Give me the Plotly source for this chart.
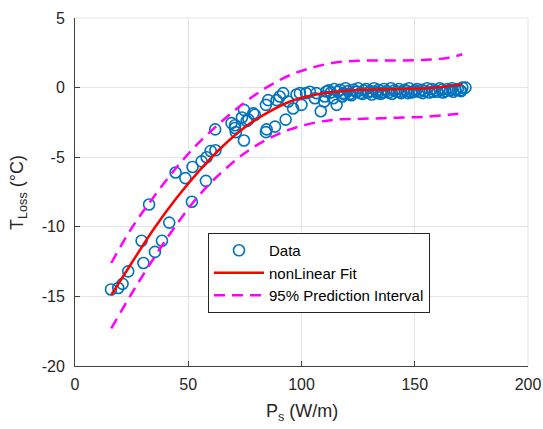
import plotly.graph_objects as go

# ---- data ----
ps_data = [15.9, 19.1, 21.0, 23.5, 29.4, 30.2, 32.7, 35.3, 38.4, 41.6,
           44.4, 48.7, 51.6, 51.9, 55.9, 57.8, 58.1, 59.9, 61.9, 62.0,
           69.1, 70.6, 70.7, 71.0, 73.7, 74.6, 74.6, 75.8, 76.6, 78.7,
           79.4, 84.3, 84.6, 84.3, 85.3, 88.3, 89.0, 90.4, 91.9, 93.0,
           94.1, 96.3, 97.8, 99.3, 102.0, 103.7, 105.9, 106.6, 108.5, 110.3,
           110.0, 111.0, 114.0, 115.5, 118.0, 100.0,
           112.0, 113.0, 114.5, 116.0, 117.0, 118.5, 119.5, 120.5, 121.5, 123.0,
           124.0, 125.0, 126.0, 127.5, 128.5, 129.5, 130.5, 132.0, 133.0, 134.0,
           135.0, 136.5, 137.5, 138.5, 139.5, 141.0, 142.0, 143.0, 144.0, 145.5,
           146.5, 147.5, 148.5, 150.0, 151.0, 152.0, 153.0, 154.5, 155.5, 156.5,
           157.5, 159.0, 160.0, 161.0, 162.0, 163.5, 164.5, 165.5, 166.5, 168.0,
           169.0, 170.0, 171.0, 172.4,
           119.0, 122.0, 124.5, 127.0, 131.0, 133.5, 136.0, 140.0, 143.5, 147.0,
           149.5, 153.5, 158.0, 162.5, 167.0, 170.5]
tloss_data = [-14.5, -14.4, -14.1, -13.2, -11.0, -12.6, -8.4, -11.8, -11.0, -9.7,
              -6.1, -6.5, -8.2, -5.7, -5.3, -6.7, -5.0, -4.55, -3.0, -4.5,
              -2.55, -2.9, -2.7, -3.2, -2.15, -3.8, -1.6, -2.4, -2.3, -1.85,
              -1.95, -3.2, -3.0, -1.24, -0.9, -2.8, -0.9, -0.64, -0.4, -2.3,
              -1.0, -1.5, -0.5, -0.4, -0.4, -0.3, -0.76, -0.4, -1.7, -0.64,
              -1.0, -0.28, -0.76, -1.24, -0.64, -1.24,
              -0.2, -0.35, -0.1, -0.3, -0.15, -0.4, -0.05, -0.25, -0.45, -0.15,
              -0.3, -0.05, -0.4, -0.2, -0.1, -0.35, -0.25, -0.05, -0.3, -0.15,
              -0.45, -0.1, -0.25, -0.35, -0.05, -0.2, -0.3, -0.1, -0.4, -0.15,
              -0.25, -0.05, -0.35, -0.2, -0.1, -0.3, -0.15, -0.25, -0.05, -0.35,
              -0.1, -0.2, -0.3, -0.05, -0.15, -0.25, -0.1, -0.2, -0.05, -0.15,
              -0.1, -0.2, 0.0, 0.0,
              -0.5, -0.55, -0.3, -0.45, -0.5, -0.4, -0.35, -0.45, -0.3, -0.4,
              -0.3, -0.4, -0.3, -0.35, -0.3, -0.25]

fit_x = [16, 25, 35, 45, 55, 65, 75, 85, 95, 105, 115, 125, 135, 145, 155, 165, 171]
fit_y = [-14.9, -12.6, -10.1, -7.9, -5.95, -4.25, -2.85, -1.8, -1.0, -0.55,
         -0.3, -0.17, -0.13, -0.1, -0.05, 0.1, 0.25]
pi_upper = [-12.6, -10.1, -7.8, -5.7, -3.9, -2.4, -1.05, 0.05, 0.9, 1.45,
            1.8, 1.92, 1.95, 1.95, 2.0, 2.15, 2.4]
pi_lower = [-17.3, -14.8, -12.2, -9.8, -7.7, -6.05, -4.7, -3.7, -3.0, -2.55,
            -2.3, -2.25, -2.2, -2.15, -2.1, -1.95, -1.85]

x_ticks = [0, 50, 100, 150, 200]
y_ticks = [-20, -15, -10, -5, 0, 5]

blue = "#0072BD"
magenta = "#FF00FF"
axis_col = "#404040"
grid_col = "#E3E3E3"
text_col = "#262626"
font_family = "Liberation Sans, Arial, sans-serif"

fig = go.Figure()
fig.add_trace(go.Scatter(
    x=ps_data, y=tloss_data, mode="markers", name="Data",
    marker=dict(symbol="circle-open", size=11, color=blue, line=dict(width=1.6, color=blue)),
))
fig.add_trace(go.Scatter(
    x=fit_x, y=fit_y, mode="lines", name="nonLinear Fit",
    line=dict(color="#FF0000", width=2.5, shape="spline"),
))
fig.add_trace(go.Scatter(
    x=fit_x, y=pi_upper, mode="lines", name="95% Prediction Interval",
    line=dict(color=magenta, width=2.5, dash="11px,7px", shape="spline"),
    legendgroup="pi",
))
fig.add_trace(go.Scatter(
    x=fit_x, y=pi_lower, mode="lines", name="95% Prediction Interval",
    line=dict(color=magenta, width=2.5, dash="11px,7px", shape="spline"),
    legendgroup="pi", showlegend=False,
))

axis_common = dict(
    showgrid=True, gridcolor=grid_col, gridwidth=1,
    showline=True, linecolor=axis_col, linewidth=1,
    ticks="inside", ticklen=5, tickcolor=axis_col, tickwidth=1,
    zeroline=False, mirror=False, automargin=False,
    tickfont=dict(size=16, color=text_col, family=font_family),
)

fig.update_xaxes(range=[0, 200], tickvals=x_ticks, ticktext=[str(v) for v in x_ticks],
                 ticklabelstandoff=4, **axis_common)
fig.update_yaxes(range=[-20, 5], tickvals=y_ticks, ticktext=[str(v) for v in y_ticks],
                 ticklabelstandoff=6, **axis_common)

# axis titles as annotations for exact placement
fig.add_annotation(text="P<sub>s</sub> (W/m)", xref="paper", yref="paper",
                   x=0.5, y=-0.095, xanchor="center", yanchor="top", showarrow=False,
                   font=dict(size=18, color=text_col, family=font_family))
fig.add_annotation(text="T<sub>Loss</sub> (°C)", xref="paper", yref="paper",
                   x=-0.126, y=0.5, xanchor="center", yanchor="middle", showarrow=False,
                   textangle=-90, font=dict(size=18, color=text_col, family=font_family))

# light border on top / right like the reference's edge grid lines
fig.add_shape(type="line", xref="paper", yref="paper", x0=0, x1=1, y0=1, y1=1,
              line=dict(color=grid_col, width=1))
fig.add_shape(type="line", xref="paper", yref="paper", x0=1, x1=1, y0=0, y1=1,
              line=dict(color=grid_col, width=1))

fig.update_layout(
    width=543, height=429,
    margin=dict(l=75, r=15, t=18, b=63),
    paper_bgcolor="white", plot_bgcolor="white",
    font=dict(family=font_family, color=text_col),
    showlegend=True,
    legend=dict(
        x=0.2936, y=0.382, xanchor="left", yanchor="top",
        bgcolor="white", bordercolor=text_col, borderwidth=1,
        font=dict(size=15, color="#000000", family=font_family),
        itemwidth=50, tracegroupgap=0,
    ),
)

fig.write_html(
    "out.html",
    config={"displayModeBar": False},
    post_script="document.documentElement.style.margin='0';document.body.style.margin='0';"
                "document.body.style.padding='0';document.body.style.overflow='hidden';"
                "document.documentElement.style.overflow='hidden';",
)
